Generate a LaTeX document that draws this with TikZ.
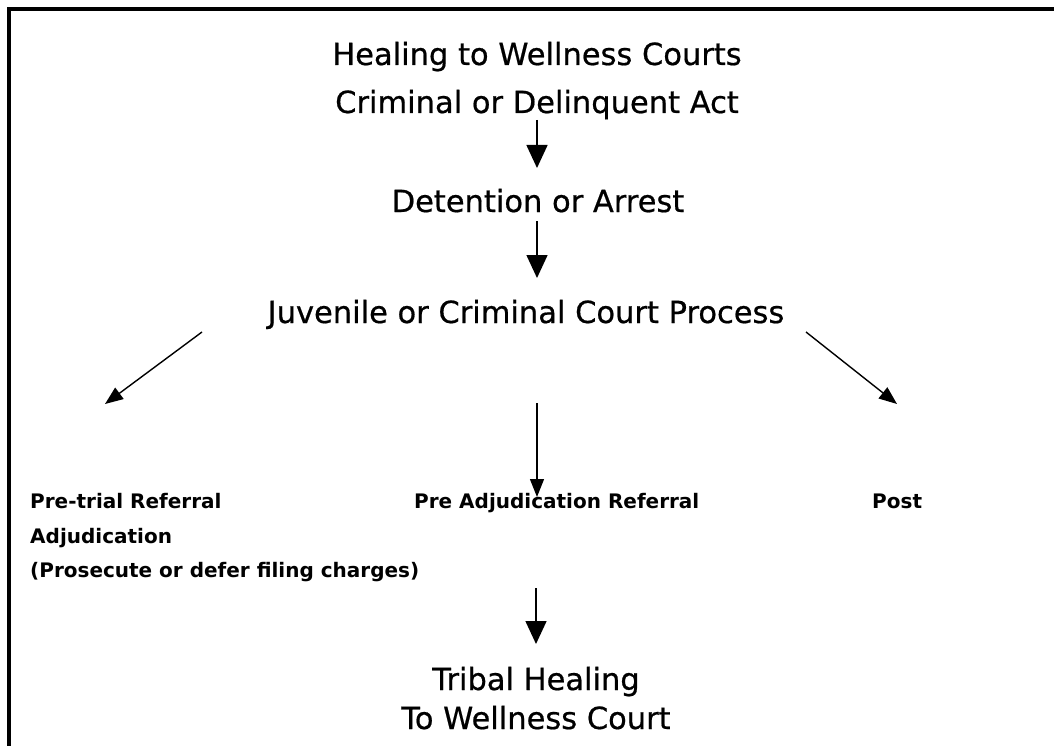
\documentclass[tikz,border=0pt]{standalone}
\usepackage{fontspec}
\setmainfont{DejaVu Sans}
\newfontfamily\bigfont[FakeBold=0.6]{DejaVu Sans}
\usetikzlibrary{arrows.meta}
\tikzset{
  big/.style={inner sep=0pt, anchor=base, font=\bigfont\fontsize{30.5}{36}\selectfont},
  small/.style={inner sep=0pt, anchor=base west, font=\fontsize{20}{24}\selectfont\bfseries},
  varrow/.style={line width=1.5pt, -{Triangle[width=21pt,length=23pt]}},
  darrow/.style={line width=1.4pt, -{Triangle[width=14pt,length=18pt]}},
  frame/.style={line width=4pt, miter limit=10}
}
\begin{document}
\begin{tikzpicture}[x=1pt,y=-1pt]
\useasboundingbox (0,0) rectangle (1054,746);
\begin{scope}
\clip (0,0) rectangle (1054,746);
\draw[frame] (9,760) -- (9,9) -- (1070,9);
\end{scope}
% texts
\node[big] (t1) at (537,65) {Healing to Wellness Courts};
\node[big] (t2) at (537,113) {Criminal or Delinquent Act};
\node[big] (det) at (538,212) {Detention or Arrest};
\node[big] (juv) at (526,323) {Juvenile or Criminal Court Process};
\node[small] (pre1) at (30,508) {Pre-trial Referral};
\node[small] (pre2) at (30,543) {Adjudication};
\node[small] (pre3) at (30,577) {(Prosecute or defer filing charges)};
\node[small] (mid) at (414,508) {Pre Adjudication Referral};
\node[small] (post) at (872,508) {Post};
\node[big] (th1) at (536,690) {Tribal Healing};
\node[big] (th2) at (536,729) {To Wellness Court};
% arrow end points
\coordinate (a1s) at (537,120);
\coordinate (a1e) at (537,168);
\coordinate (a2s) at (537,221);
\coordinate (a2e) at (537,278);
\coordinate (ls) at (202,332);
\coordinate (le) at (105,404);
\coordinate (rs) at (806,332);
\coordinate (re) at (897,404);
\coordinate (ms) at (537,403);
\coordinate (me) at (537,497);
\coordinate (bs) at (536,588);
\coordinate (be) at (536,644);
\draw[varrow] (a1s) -- (a1e);
\draw[varrow] (a2s) -- (a2e);
\draw[darrow] (ls) -- (le);
\draw[darrow] (rs) -- (re);
\draw[darrow] (ms) -- (me);
\draw[varrow] (bs) -- (be);
\end{tikzpicture}
\end{document}
